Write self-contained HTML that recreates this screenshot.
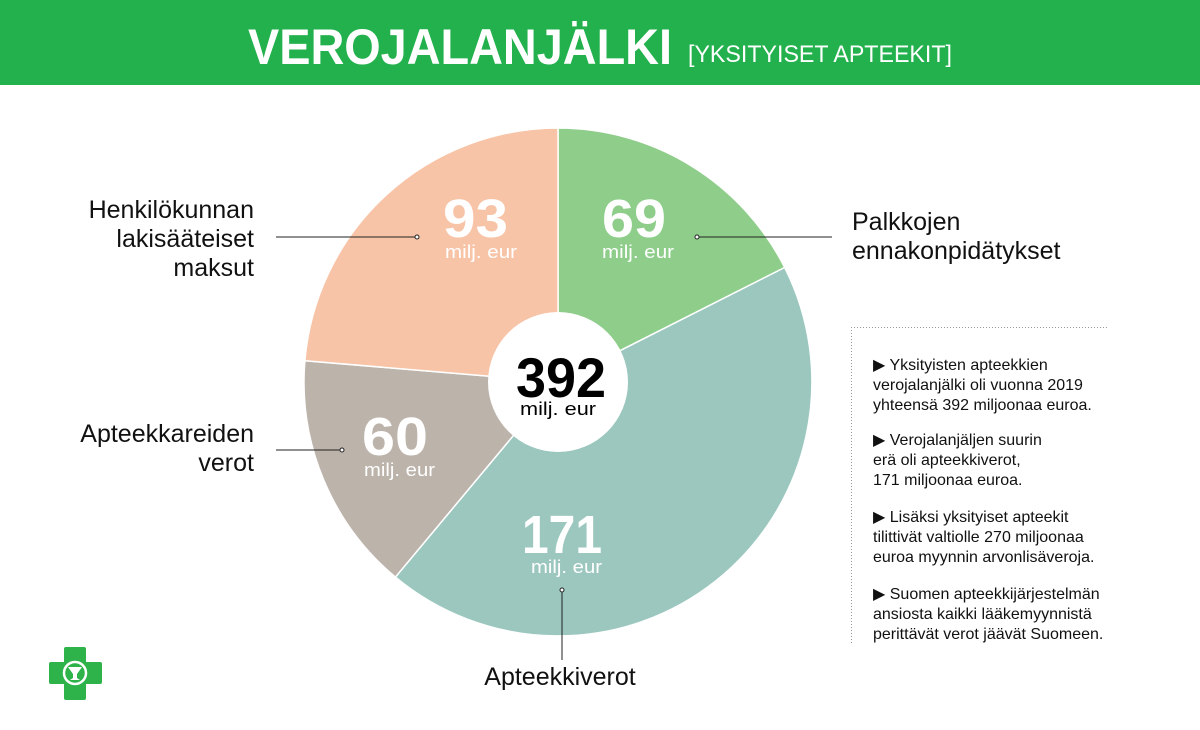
<!DOCTYPE html>
<html><head><meta charset="utf-8"><style>
html,body{margin:0;padding:0;background:#fff;}
svg{display:block;font-family:"Liberation Sans",sans-serif;}
</style></head><body>
<svg width="1200" height="730" viewBox="0 0 1200 730">
<rect x="0" y="0" width="1200" height="85" fill="#22b14c"/>
<text x="248" y="64" font-size="50" font-weight="bold" fill="#fff" textLength="424" lengthAdjust="spacingAndGlyphs">VEROJALANJÄLKI</text>
<text x="688" y="62" font-size="24" fill="#fff" textLength="264" lengthAdjust="spacingAndGlyphs">[YKSITYISET APTEEKIT]</text>

<g stroke="#fff" stroke-width="1.5">
<path d="M558,382 L558,128 A254,254 0 0 1 784.7,267.5 Z" fill="#8fcd8b"/>
<path d="M558,382 L784.7,267.5 A254,254 0 0 1 395.4,577.1 Z" fill="#9bc7be"/>
<path d="M558,382 L395.4,577.1 A254,254 0 0 1 304.9,360.7 Z" fill="#bcb3ab"/>
<path d="M558,382 L304.9,360.7 A254,254 0 0 1 558,128 Z" fill="#f8c4a7"/>
</g>
<circle cx="558" cy="382" r="70" fill="#fff"/>

<g fill="#fff" font-weight="bold" font-size="54">
<text x="443" y="237" textLength="65" lengthAdjust="spacingAndGlyphs">93</text>
<text x="602" y="237" textLength="64" lengthAdjust="spacingAndGlyphs">69</text>
<text x="362" y="455" textLength="66" lengthAdjust="spacingAndGlyphs">60</text>
<text x="522" y="553" textLength="80" lengthAdjust="spacingAndGlyphs">171</text>
</g>
<g fill="#fff" font-size="18">
<text x="445" y="258" textLength="72" lengthAdjust="spacingAndGlyphs">milj. eur</text>
<text x="602" y="258" textLength="72" lengthAdjust="spacingAndGlyphs">milj. eur</text>
<text x="364" y="476" textLength="71" lengthAdjust="spacingAndGlyphs">milj. eur</text>
<text x="531" y="573" textLength="71" lengthAdjust="spacingAndGlyphs">milj. eur</text>
</g>
<text x="516" y="397" font-size="56" font-weight="bold" fill="#000" textLength="90" lengthAdjust="spacingAndGlyphs">392</text>
<text x="520" y="415" font-size="18" fill="#000" textLength="76" lengthAdjust="spacingAndGlyphs">milj. eur</text>

<g stroke="#222" stroke-width="1" fill="none">
<line x1="276" y1="237" x2="416" y2="237"/>
<line x1="698" y1="237" x2="832" y2="237"/>
<line x1="276" y1="450" x2="341" y2="450"/>
<line x1="562" y1="591" x2="562" y2="660"/>
</g>
<g fill="#fff" stroke="#222" stroke-width="1">
<circle cx="417" cy="237" r="2"/><circle cx="697" cy="237" r="2"/>
<circle cx="342" cy="450" r="2"/><circle cx="562" cy="590" r="2"/>
</g>

<g fill="#111" font-size="25">
<text x="254" y="218" text-anchor="end">Henkilökunnan</text>
<text x="254" y="247" text-anchor="end">lakisääteiset</text>
<text x="254" y="276" text-anchor="end">maksut</text>
<text x="852" y="230">Palkkojen</text>
<text x="852" y="259">ennakonpidätykset</text>
<text x="254" y="442" text-anchor="end">Apteekkareiden</text>
<text x="254" y="471" text-anchor="end">verot</text>
<text x="560" y="685" text-anchor="middle">Apteekkiverot</text>
</g>

<g stroke="#999" stroke-width="1" stroke-dasharray="1,2">
<line x1="851" y1="327.5" x2="1107" y2="327.5"/>
<line x1="851.5" y1="327" x2="851.5" y2="645"/>
</g>
<g fill="#111" font-size="16">
<text x="873" y="370">▶ Yksityisten apteekkien</text>
<text x="873" y="390">verojalanjälki oli vuonna 2019</text>
<text x="873" y="410">yhteensä 392 miljoonaa euroa.</text>
<text x="873" y="445">▶ Verojalanjäljen suurin</text>
<text x="873" y="465">erä oli apteekkiverot,</text>
<text x="873" y="485">171 miljoonaa euroa.</text>
<text x="873" y="522">▶ Lisäksi yksityiset apteekit</text>
<text x="873" y="542">tilittivät valtiolle 270 miljoonaa</text>
<text x="873" y="562">euroa myynnin arvonlisäveroja.</text>
<text x="873" y="599">▶ Suomen apteekkijärjestelmän</text>
<text x="873" y="619">ansiosta kaikki lääkemyynnistä</text>
<text x="873" y="639">perittävät verot jäävät Suomeen.</text>
</g>

<g fill="#2db34a">
<rect x="64" y="647" width="22" height="53" rx="2"/>
<rect x="49" y="662" width="53" height="22" rx="2"/>
</g>
<circle cx="75" cy="673" r="11" fill="none" stroke="#fff" stroke-width="2.5"/>
<path d="M68,667 L82,667 L77,674 L77,678 L80,680 L70,680 L73,678 L73,674 Z" fill="#fff"/>
</svg>
</body></html>
